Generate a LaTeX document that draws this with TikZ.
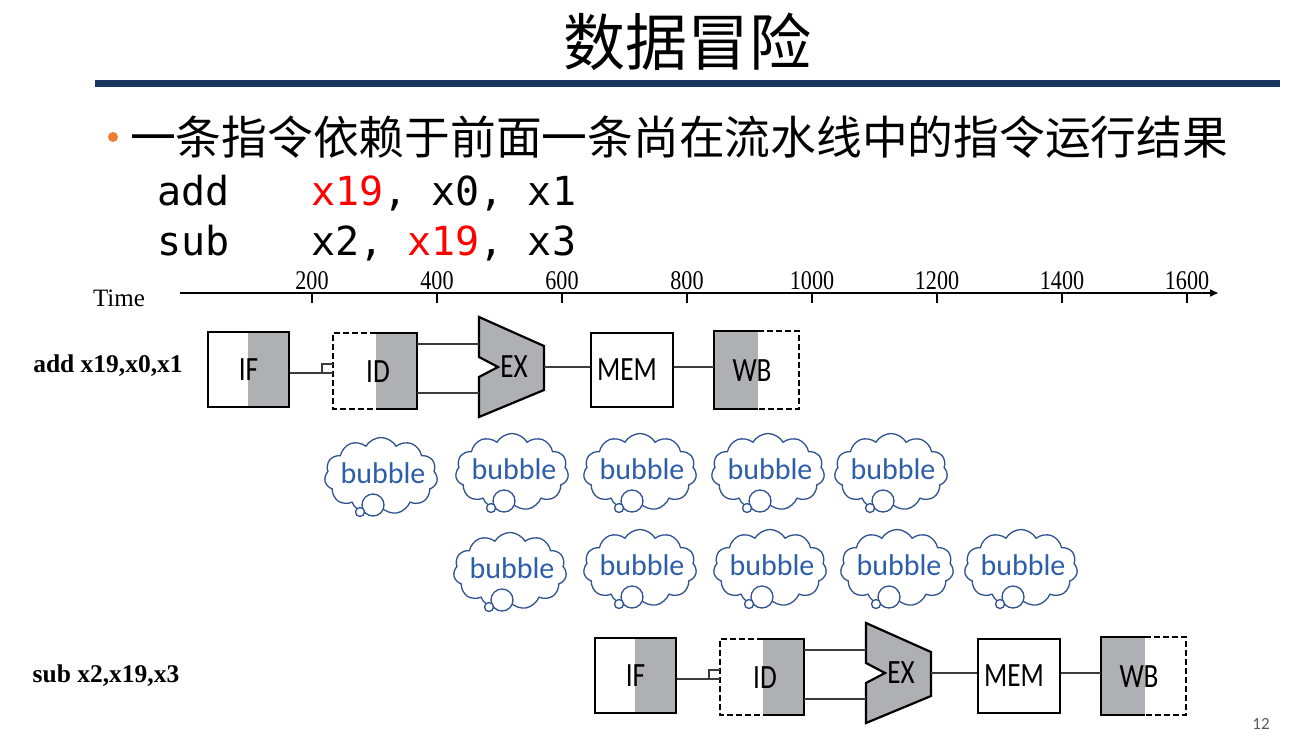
\documentclass[tikz,border=0pt]{standalone}
\usepackage{fontspec}
\usepackage{graphicx}
\usetikzlibrary{shapes.symbols,arrows.meta,calc}
\newfontfamily\cjk{Noto Sans CJK SC}
\newfontfamily\stagefont{Carlito}
\newfontfamily\codefont{DejaVu Sans Mono}
\newfontfamily\timesfont{Liberation Serif}
\definecolor{navy}{RGB}{23,55,94}
\definecolor{bulletorange}{RGB}{237,125,49}
\definecolor{stgray}{RGB}{175,176,180}
\definecolor{linegray}{RGB}{60,60,60}
\definecolor{bubblue}{RGB}{47,82,143}
\definecolor{bubtext}{RGB}{46,94,170}
\definecolor{pagegray}{RGB}{89,89,89}
\tikzset{
  stxt/.style={font=\stagefont\fontsize{34}{36}\selectfont, inner sep=0pt},
  box/.style={draw=black, line width=2.2pt},
  conn/.style={draw=linegray, line width=2pt},
  cloudsty/.style={cloud, cloud puffs=11, cloud puff arc=120, aspect=1.47,
    draw=bubblue, line width=1.3pt, fill=white, inner sep=0pt,
    minimum width=113pt, minimum height=77pt},
  bubtxt/.style={text=bubtext, inner sep=0pt, font=\stagefont\fontsize{30}{32}\selectfont},
  tick/.style={draw=black, line width=1.4pt},
  ticklab/.style={font=\timesfont\fontsize{27}{29}\selectfont, inner sep=0pt},
  rowlab/.style={font=\timesfont\bfseries\fontsize{25.5}{27}\selectfont, inner sep=0pt},
  codetxt/.style={font=\codefont\fontsize{40}{44}\selectfont, inner sep=0pt, anchor=base west}
}
\begin{document}
\begin{tikzpicture}[x=1pt,y=-1pt]
\useasboundingbox (0,0) rectangle (1316,755);
% title
\node[font=\cjk\fontsize{62}{66}\selectfont, inner sep=0pt] (title) at (687,42) {数据冒险};
\fill[navy] (95,80) rectangle (1280,87);
% bullet
\fill[bulletorange] (113,137) circle (5pt);
\node[font=\cjk\fontsize{45.75}{48}\selectfont, inner sep=0pt, anchor=west] (bullet) at (130,137) {一条指令依赖于前面一条尚在流水线中的指令运行结果};
% code
\node[codetxt] (c1a) at (157,205) {add};
\node[codetxt] (c1b) at (311,205) {\textcolor{red}{x19}, x0, x1};
\node[codetxt] (c2a) at (157,255) {sub};
\node[codetxt] (c2b) at (311,255) {x2, \textcolor{red}{x19}, x3};
% time axis
\node[font=\timesfont\fontsize{25}{27}\selectfont, inner sep=0pt] (time) at (119,298) {Time};
\coordinate (axs) at (180,293);
\coordinate (axe) at (1218,293);
\draw[line width=1.6pt, -{Triangle[length=8pt,width=7pt]}] (axs) -- (axe);
\foreach \k/\lab in {0/200,1/400,2/600,3/800,4/1000,5/1200,6/1400,7/1600}{
  \draw[tick] (312+125*\k,293) -- (312+125*\k,303);
  \node[ticklab] (tl\k) at (312+125*\k,281) {\scalebox{0.82}[1]{\lab}};
}
% row labels
\node[rowlab] (lab1) at (108,366) {add x19,x0,x1};
\node[rowlab] (lab2) at (106,676) {sub x2,x19,x3};
% pipeline rows
\foreach \r/\dx/\dy in {a/0/0,b/387/306}{
\begin{scope}[shift={(\dx,\dy)}]
  % IF
  \fill[stgray] (248,332) rectangle (289,407);
  \node[box, minimum width=81pt, minimum height=75pt, inner sep=0pt, stxt] (IF\r) at (248.5,369.5) {\scalebox{0.8}[1]{IF}};
  % ID
  \fill[stgray] (376,333) rectangle (417,409);
  \draw[line width=2.2pt, dashed, dash pattern=on 6pt off 3pt] (376,333) -- (333,333) -- (333,409) -- (376,409);
  \draw[line width=2.2pt] (376,333) -- (417,333) -- (417,409) -- (376,409);
  \node[minimum width=84pt, minimum height=76pt, inner sep=0pt] (ID\r) at (375,371) {};
  \node[stxt] (IDt\r) at (378,372) {\scalebox{0.8}[1]{ID}};
  % EX
  \filldraw[fill=stgray, draw=black, line width=2.2pt, line join=miter]
    (479,317) -- (544,346) -- (544,390) -- (479,417) -- (479,377) -- (498,367) -- (479,357) -- cycle;
  \node[stxt] (EX\r) at (514,367) {\scalebox{0.8}[1]{EX}};
  \coordinate (EXa\r) at (479,344);
  \coordinate (EXb\r) at (479,393);
  \coordinate (EXo\r) at (544,367);
  % MEM
  \node[box, minimum width=82pt, minimum height=74pt, inner sep=0pt] (MEM\r) at (632,370) {};
  \node[stxt] (MEMt\r) at (627,370) {\scalebox{0.8}[1]{MEM}};
  % WB
  \fill[stgray] (714,331) rectangle (758,409);
  \draw[line width=2.2pt] (758,331) -- (714,331) -- (714,409) -- (758,409);
  \draw[line width=2.2pt, dashed, dash pattern=on 6pt off 3pt] (758,331) -- (799,331) -- (799,409) -- (758,409);
  \node[minimum width=85pt, minimum height=78pt, inner sep=0pt] (WB\r) at (756.5,370) {};
  \node[stxt] (WBt\r) at (752,371) {\scalebox{0.8}[1]{WB}};
  % connectors
  \coordinate (nt\r) at (322,373);
  \draw[conn] (IF\r.east |- nt\r) -- (ID\r.west |- nt\r);
  \draw[conn, line width=1.3pt] (nt\r) -- ++(0,-9) -- (ID\r.west |- {$(nt\r)+(0,-9)$});
  \draw[conn] (ID\r.east |- EXa\r) -- (EXa\r);
  \draw[conn] (ID\r.east |- EXb\r) -- (EXb\r);
  \draw[conn] (EXo\r) -- (MEM\r.west |- EXo\r);
  \draw[conn] (MEM\r.east |- EXo\r) -- (WB\r.west |- EXo\r);
\end{scope}
}
% bubbles
\foreach \n/\cx/\cy in {1/383/473,2/514/469,3/642/469,4/770/469,5/893/469,
                        6/512/568,7/642/565,8/772/565,9/899/565,10/1023/565}{
  \node[cloudsty] (bub\n) at (\cx-2,\cy+3) {};
  \filldraw[fill=white, draw=bubblue, line width=1.3pt] (\cx-10,\cy+32) circle (11pt);
  \filldraw[fill=white, draw=bubblue, line width=1.3pt] (\cx-23,\cy+39) circle (4.5pt);
  \node[bubtxt] (bt\n) at (\cx,\cy) {bubble};
}
% page number
\node[font=\stagefont\fontsize{17}{19}\selectfont, text=pagegray, inner sep=0pt] (pg) at (1261,724) {12};
\end{tikzpicture}
\end{document}
